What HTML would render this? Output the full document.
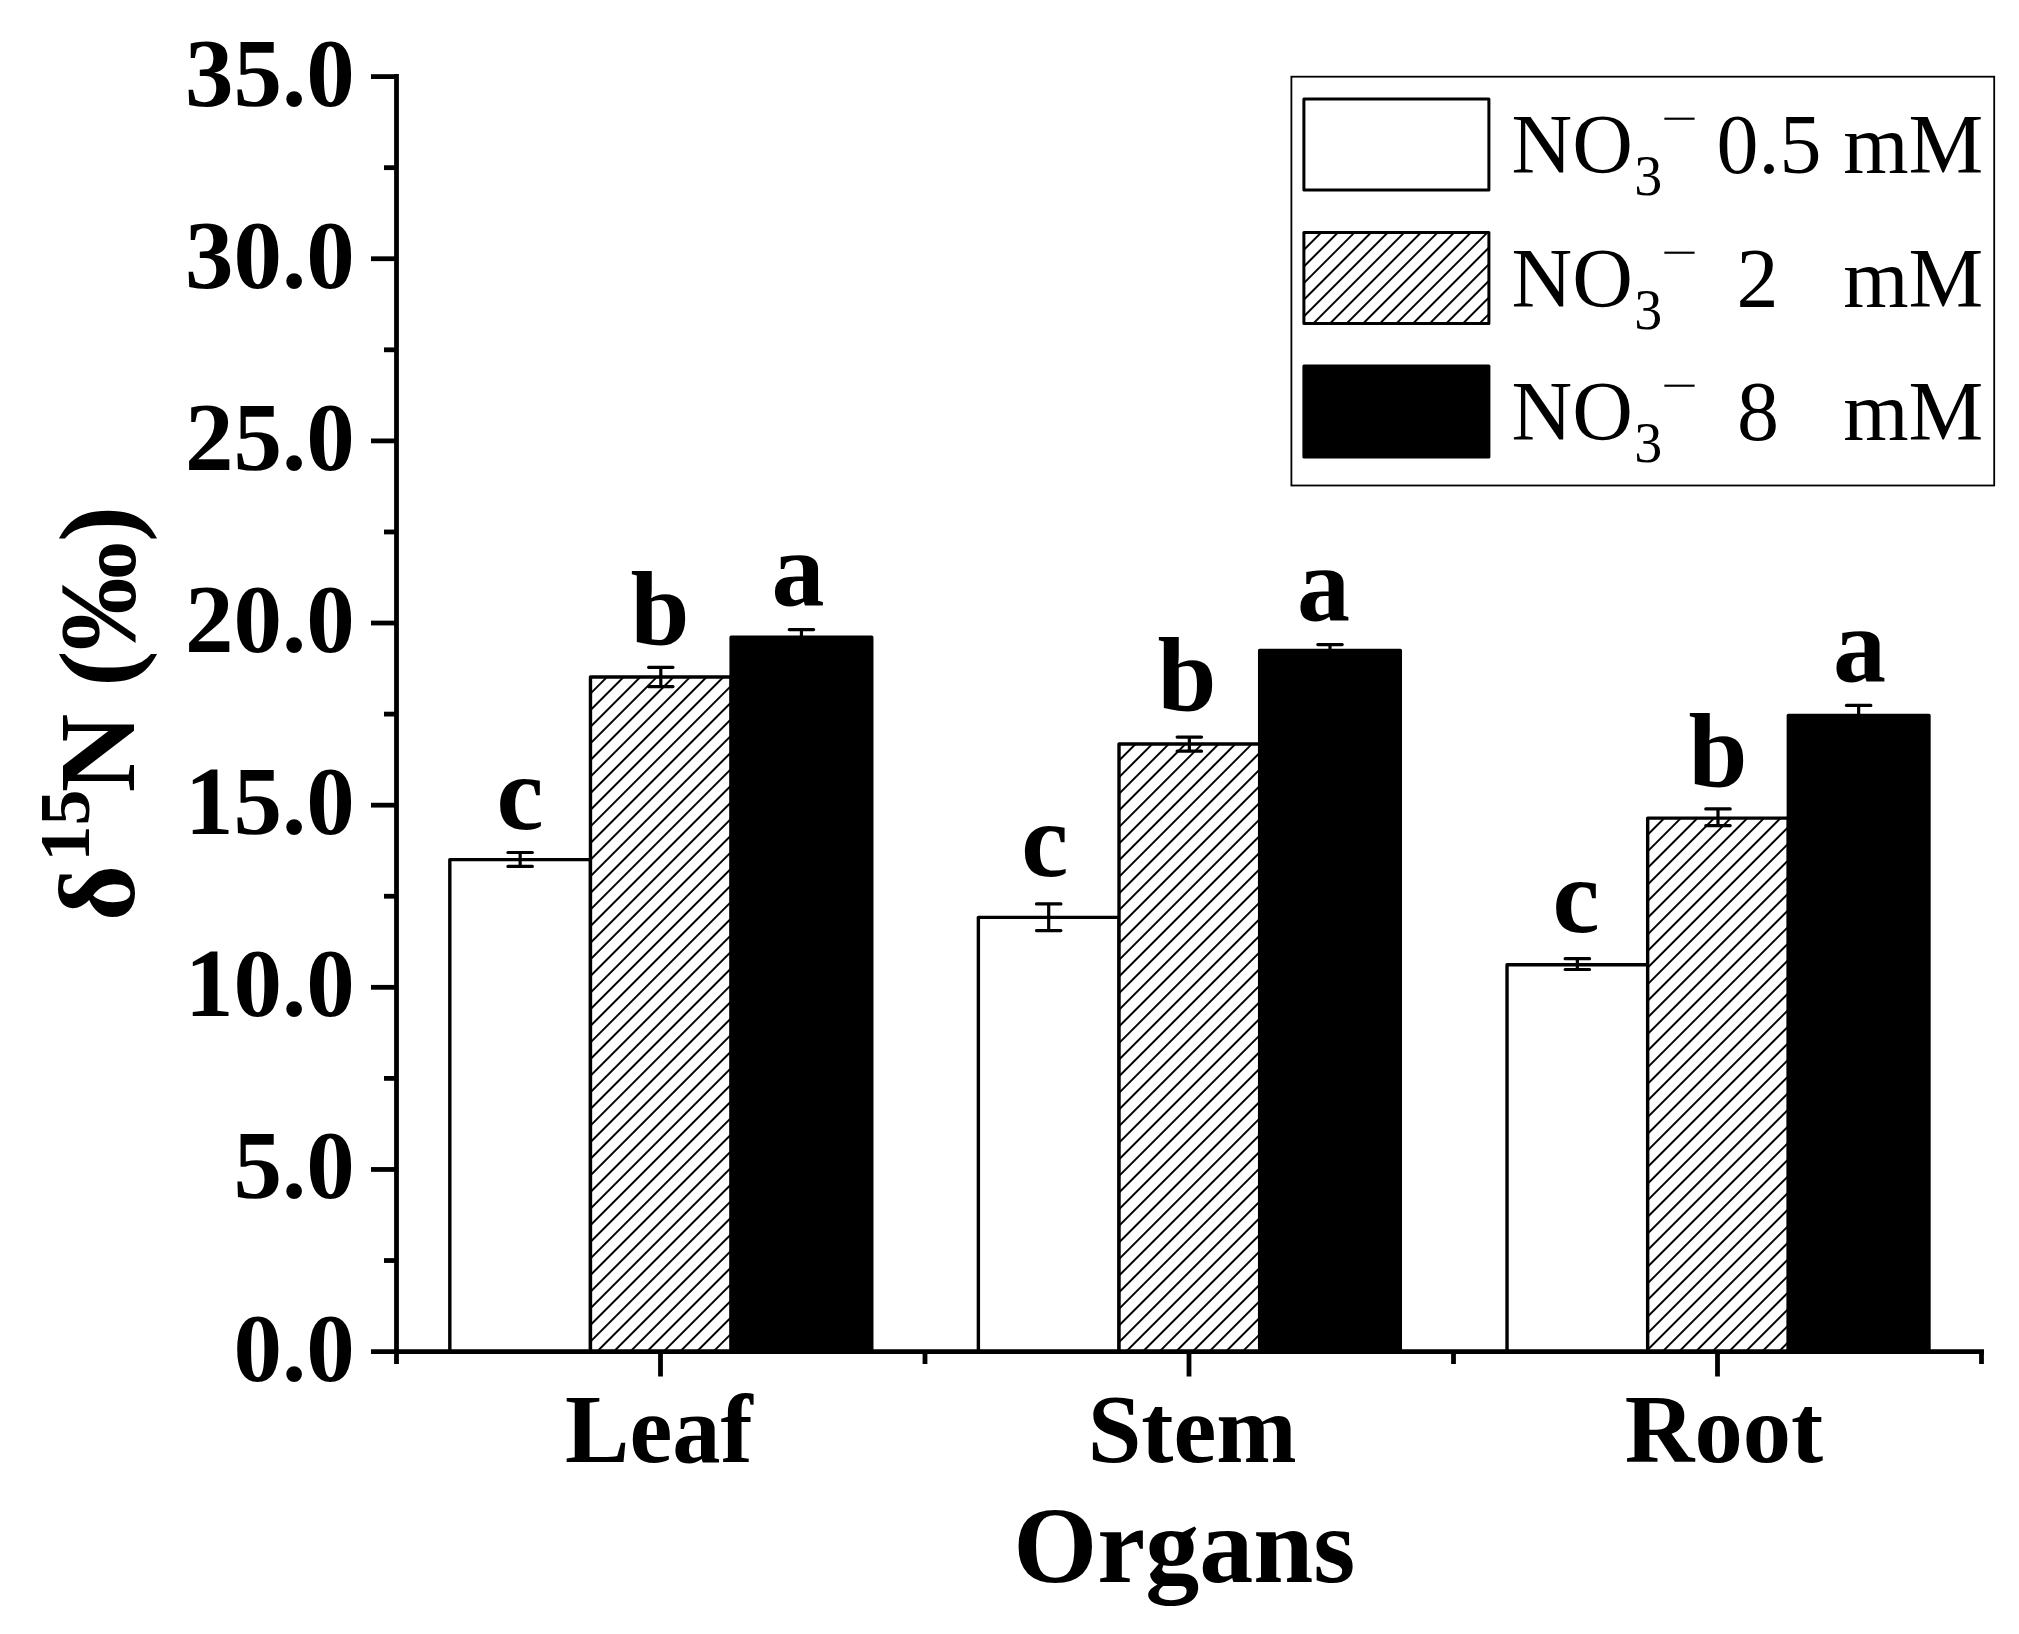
<!DOCTYPE html>
<html lang="en"><head><meta charset="utf-8"><title>δ15N in organs under nitrate supply</title>
<style>
html,body{margin:0;padding:0;background:#fff;}
body{width:2019px;height:1634px;overflow:hidden;}
svg{display:block;position:absolute;left:0;top:0;}
text{font-family:"Liberation Serif","Times New Roman",serif;fill:#000;}
.tick{font-size:97px;font-weight:bold;}
.ttl{font-size:108px;font-weight:bold;}
.let{font-size:106px;font-weight:bold;}
.lg{font-size:84px;}
.sub{font-size:56px;}
</style></head><body>
<svg width="2019" height="1634" viewBox="0 0 2019 1634">
<defs><pattern id="h0" patternUnits="userSpaceOnUse" width="11.749" height="11.749" patternTransform="translate(586.32,672.79) rotate(45)"><rect width="11.749" height="11.749" fill="#fff"/><line x1="5.874" y1="-1" x2="5.874" y2="12.749" stroke="#000" stroke-width="2.0"/></pattern><pattern id="h1" patternUnits="userSpaceOnUse" width="11.749" height="11.749" patternTransform="translate(1114.87,739.82) rotate(45)"><rect width="11.749" height="11.749" fill="#fff"/><line x1="5.874" y1="-1" x2="5.874" y2="12.749" stroke="#000" stroke-width="2.0"/></pattern><pattern id="h2" patternUnits="userSpaceOnUse" width="11.749" height="11.749" patternTransform="translate(1643.52,813.95) rotate(45)"><rect width="11.749" height="11.749" fill="#fff"/><line x1="5.874" y1="-1" x2="5.874" y2="12.749" stroke="#000" stroke-width="2.0"/></pattern><pattern id="hl" patternUnits="userSpaceOnUse" width="11.749" height="11.749" patternTransform="translate(1300.15,228.70) rotate(45)"><rect width="11.749" height="11.749" fill="#fff"/><line x1="5.874" y1="-1" x2="5.874" y2="12.749" stroke="#000" stroke-width="2.0"/></pattern></defs>
<rect width="2019" height="1634" fill="#fff"/>
<rect x="449.82" y="859.60" width="140.65" height="492.00" fill="#fff" stroke="#000" stroke-width="3.4" stroke-linejoin="round"/>
<rect x="590.47" y="676.94" width="140.65" height="674.66" fill="url(#h0)" stroke="#000" stroke-width="3.4" stroke-linejoin="round"/>
<rect x="731.12" y="637.24" width="140.65" height="714.36" fill="#000" stroke="#000" stroke-width="3.4" stroke-linejoin="round"/>
<path d="M507.95 852.50H532.35M507.95 866.40H532.35M520.15 852.50V866.40" stroke="#000" stroke-width="3.2" stroke-linecap="round" fill="none"/>
<path d="M648.60 667.30H673.00M648.60 686.60H673.00M660.80 667.30V686.60" stroke="#000" stroke-width="3.2" stroke-linecap="round" fill="none"/>
<path d="M789.25 629.60H813.65M789.25 644.00H813.65M801.45 629.60V644.00" stroke="#000" stroke-width="3.2" stroke-linecap="round" fill="none"/>
<rect x="978.37" y="917.37" width="140.65" height="434.23" fill="#fff" stroke="#000" stroke-width="3.4" stroke-linejoin="round"/>
<rect x="1119.02" y="743.97" width="140.65" height="607.63" fill="url(#h1)" stroke="#000" stroke-width="3.4" stroke-linejoin="round"/>
<rect x="1259.67" y="650.35" width="140.65" height="701.25" fill="#000" stroke="#000" stroke-width="3.4" stroke-linejoin="round"/>
<path d="M1036.50 903.90H1060.90M1036.50 930.60H1060.90M1048.70 903.90V930.60" stroke="#000" stroke-width="3.2" stroke-linecap="round" fill="none"/>
<path d="M1177.15 737.10H1201.55M1177.15 751.20H1201.55M1189.35 737.10V751.20" stroke="#000" stroke-width="3.2" stroke-linecap="round" fill="none"/>
<path d="M1317.80 644.60H1342.20M1317.80 656.00H1342.20M1330.00 644.60V656.00" stroke="#000" stroke-width="3.2" stroke-linecap="round" fill="none"/>
<rect x="1507.03" y="964.73" width="140.65" height="386.87" fill="#fff" stroke="#000" stroke-width="3.4" stroke-linejoin="round"/>
<rect x="1647.68" y="818.10" width="140.65" height="533.50" fill="url(#h2)" stroke="#000" stroke-width="3.4" stroke-linejoin="round"/>
<rect x="1788.33" y="715.56" width="140.65" height="636.04" fill="#000" stroke="#000" stroke-width="3.4" stroke-linejoin="round"/>
<path d="M1565.15 958.70H1589.55M1565.15 969.50H1589.55M1577.35 958.70V969.50" stroke="#000" stroke-width="3.2" stroke-linecap="round" fill="none"/>
<path d="M1705.80 808.90H1730.20M1705.80 825.60H1730.20M1718.00 808.90V825.60" stroke="#000" stroke-width="3.2" stroke-linecap="round" fill="none"/>
<path d="M1846.45 705.40H1870.85M1846.45 722.00H1870.85M1858.65 705.40V722.00" stroke="#000" stroke-width="3.2" stroke-linecap="round" fill="none"/>
<g stroke="#000" stroke-width="4.8" fill="none" stroke-linecap="butt">
<path d="M396.5 74V1364"/>
<path d="M371 1351.6H1984"/>
<path d="M384 1260.53H396.5"/>
<path d="M371 1169.46H396.5"/>
<path d="M384 1078.39H396.5"/>
<path d="M371 987.31H396.5"/>
<path d="M384 896.24H396.5"/>
<path d="M371 805.17H396.5"/>
<path d="M384 714.10H396.5"/>
<path d="M371 623.03H396.5"/>
<path d="M384 531.96H396.5"/>
<path d="M371 440.89H396.5"/>
<path d="M384 349.81H396.5"/>
<path d="M371 258.74H396.5"/>
<path d="M384 167.67H396.5"/>
<path d="M371 76.60H396.5"/>
<path d="M660.5 1351.6V1376.5"/>
<path d="M1189 1351.6V1376.5"/>
<path d="M1717.5 1351.6V1376.5"/>
<path d="M925 1351.6V1364"/>
<path d="M1453.5 1351.6V1364"/>
<path d="M1981.5 1351.6V1364"/>
</g>
<text class="tick" x="354.8" y="1380.50" text-anchor="end">0.0</text>
<text class="tick" x="354.8" y="1198.36" text-anchor="end">5.0</text>
<text class="tick" x="354.8" y="1016.21" text-anchor="end">10.0</text>
<text class="tick" x="354.8" y="834.07" text-anchor="end">15.0</text>
<text class="tick" x="354.8" y="651.93" text-anchor="end">20.0</text>
<text class="tick" x="354.8" y="469.79" text-anchor="end">25.0</text>
<text class="tick" x="354.8" y="287.64" text-anchor="end">30.0</text>
<text class="tick" x="354.8" y="105.50" text-anchor="end">35.0</text>
<text class="tick" x="658.9" y="1462" text-anchor="middle" style="font-size:96.5px">Leaf</text>
<text class="tick" x="1192.2" y="1462" text-anchor="middle" style="font-size:96.5px">Stem</text>
<text class="tick" x="1724" y="1462" text-anchor="middle" style="font-size:96.5px">Root</text>
<text class="ttl" x="1184.3" y="1582" text-anchor="middle">Organs</text>
<g transform="translate(134.3,0) rotate(-90)">
<text class="ttl" x="-921" y="0">δ</text>
<text class="ttl" x="-861.5" y="-45.5" style="font-size:72px">15</text>
<text class="ttl" x="-792.2" y="0" style="font-size:108.5px">N (‰)</text>
</g>
<text class="let" x="520.0" y="829.3" text-anchor="middle">c</text>
<text class="let" x="660.0" y="644.5" text-anchor="middle">b</text>
<text class="let" x="798" y="605" text-anchor="middle">a</text>
<text class="let" x="1044.9" y="875.9" text-anchor="middle">c</text>
<text class="let" x="1187.0" y="710.7" text-anchor="middle">b</text>
<text class="let" x="1323.6" y="620.4" text-anchor="middle">a</text>
<text class="let" x="1576.0" y="931.9" text-anchor="middle">c</text>
<text class="let" x="1718.0" y="786.7" text-anchor="middle">b</text>
<text class="let" x="1859.4" y="681.4" text-anchor="middle">a</text>
<rect x="1291.4" y="76.7" width="702.8" height="408.8" fill="#fff" stroke="#000" stroke-width="1.8"/>
<rect x="1303.9" y="98.90" width="185" height="91.1" fill="#fff" stroke="#000" stroke-width="3" stroke-linejoin="round"/>
<text class="lg" x="1511.6" y="173.00">NO</text>
<text class="sub" x="1634.2" y="195.30">3</text>
<text class="sub" transform="translate(1661.2,133.30) scale(1.16,0.78)">−</text>
<text class="lg" x="1716.6" y="173.00">0.5</text>
<text class="lg" x="1843.2" y="173.00">mM</text>
<rect x="1303.9" y="232.45" width="185" height="91.1" fill="url(#hl)" stroke="#000" stroke-width="3" stroke-linejoin="round"/>
<text class="lg" x="1511.6" y="306.55">NO</text>
<text class="sub" x="1634.2" y="328.85">3</text>
<text class="sub" transform="translate(1661.2,266.85) scale(1.16,0.78)">−</text>
<text class="lg" x="1736.5" y="306.55">2</text>
<text class="lg" x="1843.2" y="306.55">mM</text>
<rect x="1303.9" y="366.00" width="185" height="91.1" fill="#000" stroke="#000" stroke-width="3" stroke-linejoin="round"/>
<text class="lg" x="1511.6" y="440.10">NO</text>
<text class="sub" x="1634.2" y="462.40">3</text>
<text class="sub" transform="translate(1661.2,400.40) scale(1.16,0.78)">−</text>
<text class="lg" x="1737" y="440.10">8</text>
<text class="lg" x="1843.2" y="440.10">mM</text>
</svg></body></html>
